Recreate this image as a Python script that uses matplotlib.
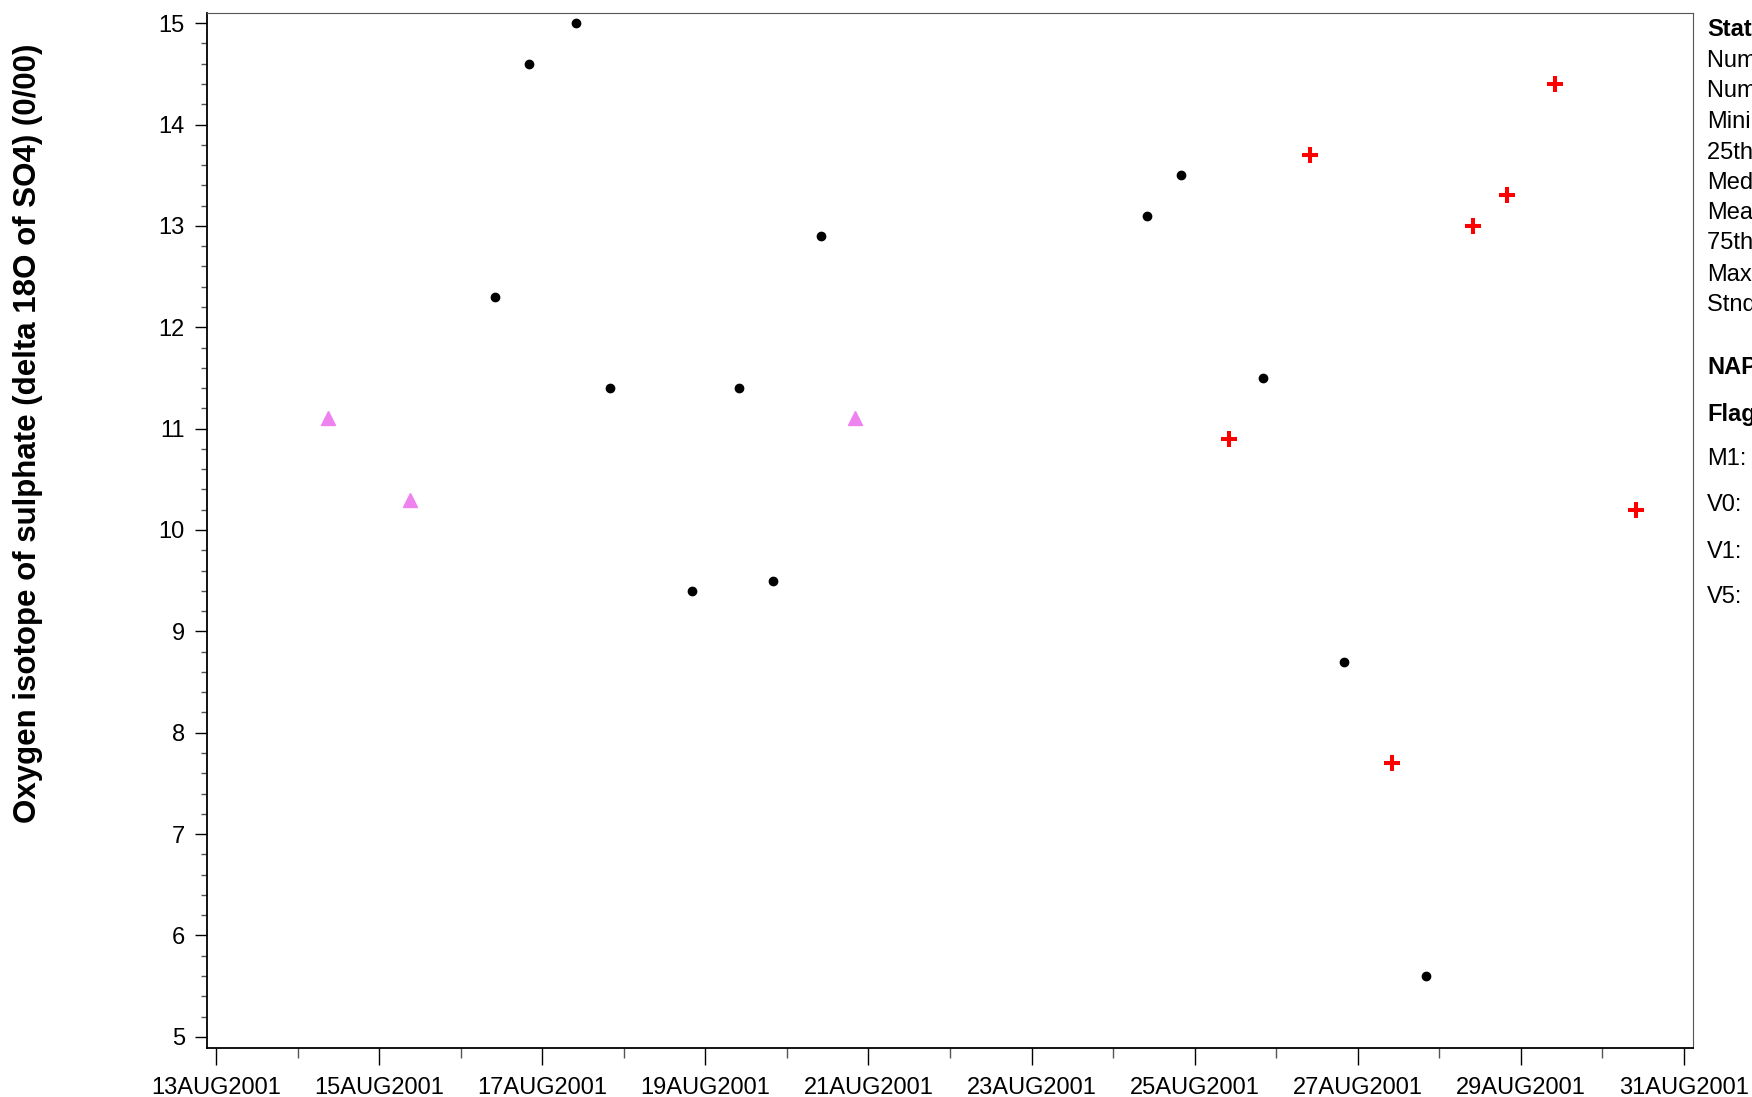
import numpy as np
import matplotlib
matplotlib.use("Agg")
import matplotlib.pyplot as plt
import matplotlib.dates as mdates
from matplotlib.ticker import MultipleLocator, FuncFormatter
from datetime import datetime

plt.rcParams['font.family'] = ['Liberation Sans', 'DejaVu Sans']

# valid samples (black dots)
valid_dates = ["2001-08-16 10:00", "2001-08-16 20:00", "2001-08-17 10:00", "2001-08-17 20:00",
               "2001-08-18 20:00", "2001-08-19 10:00", "2001-08-19 20:00", "2001-08-20 10:00",
               "2001-08-24 10:00", "2001-08-24 20:00", "2001-08-25 20:00", "2001-08-26 20:00",
               "2001-08-27 20:00"]
valid_vals = [12.3, 14.6, 15.0, 11.4, 9.4, 11.4, 9.5, 12.9, 13.1, 13.5, 11.5, 8.7, 5.6]

# flagged samples (violet triangles)
tri_dates = ["2001-08-14 09:00", "2001-08-15 09:00", "2001-08-20 20:00"]
tri_vals = [11.1, 10.3, 11.1]

# flagged samples (red crosses)
plus_dates = ["2001-08-25 10:00", "2001-08-26 10:00", "2001-08-27 10:00", "2001-08-28 10:00",
              "2001-08-28 20:00", "2001-08-29 10:00", "2001-08-30 10:00"]
plus_vals = [10.9, 13.7, 7.7, 13.0, 13.3, 14.4, 10.2]

stats_lines = ["Number of samples", "Number of flagged samples", "Minimum", "25th percentile",
               "Median", "Mean", "75th percentile", "Maximum", "Stnd deviation"]
flag_lines = ["M1:", "V0:", "V1:", "V5:"]

def to_dt(lst):
    return [datetime.strptime(s, "%Y-%m-%d %H:%M") for s in lst]

fig = plt.figure(figsize=(17.52, 10.97), dpi=100)
ax = fig.add_axes([207/1752, 1-1048/1097, (1693-207)/1752, (1048-13)/1097])

ax.plot(to_dt(valid_dates), valid_vals, 'o', color='black', markersize=6, linestyle='none')
ax.plot(to_dt(tri_dates), tri_vals, '^', color='violet', markersize=10, linestyle='none')
ax.plot(to_dt(plus_dates), plus_vals, '+', color='red', markersize=11.5, markeredgewidth=2.9, linestyle='none')

x0 = mdates.date2num(datetime(2001, 8, 13))
x1 = mdates.date2num(datetime(2001, 8, 31))
ax.set_xlim(x0 - 0.11, x1 + 0.11)
ax.set_ylim(4.89, 15.1)

ax.xaxis.set_major_locator(mdates.DayLocator(bymonthday=range(1, 32, 2)))
ax.xaxis.set_minor_locator(mdates.DayLocator())
ax.xaxis.set_major_formatter(FuncFormatter(lambda v, p: mdates.num2date(v).strftime("%d%b%Y").upper()))
ax.yaxis.set_major_locator(MultipleLocator(1))
ax.yaxis.set_minor_locator(MultipleLocator(0.2))

ax.tick_params(axis='x', which='major', length=12, width=1, labelsize=17, pad=9)
ax.tick_params(axis='x', which='minor', length=7, width=1, color='#555555')
ax.tick_params(axis='y', which='major', length=9, width=1, labelsize=17, pad=7)
ax.tick_params(axis='y', which='minor', length=4, width=1, color='#555555')
for s in ['top', 'right']:
    ax.spines[s].set_color('#555555')
for s in ['left', 'bottom']:
    ax.spines[s].set_color('black')
    ax.spines[s].set_linewidth(1.3)

fig.text(28/1752, 1-433/1097, "Oxygen isotope of sulphate (delta 18O of SO4) (0/00)",
         rotation=90, ha='center', va='center', fontsize=22.5, fontweight='bold')

tx = 1707/1752
fig.text(tx, 1-30/1097, "Statistics", fontsize=17, fontweight='bold', va='center')
ys = [61, 91, 122, 153, 183, 213, 243, 275, 305]
for yy, t in zip(ys, stats_lines):
    fig.text(tx, 1-yy/1097, t, fontsize=17, va='center')
fig.text(tx, 1-367/1097, "NAPS", fontsize=17, fontweight='bold', va='center')
fig.text(tx, 1-414/1097, "Flags", fontsize=17, fontweight='bold', va='center')
for yy, t in zip([459, 505, 552, 597], flag_lines):
    fig.text(tx, 1-yy/1097, t, fontsize=17, va='center')

plt.savefig("out.png", dpi=100)
